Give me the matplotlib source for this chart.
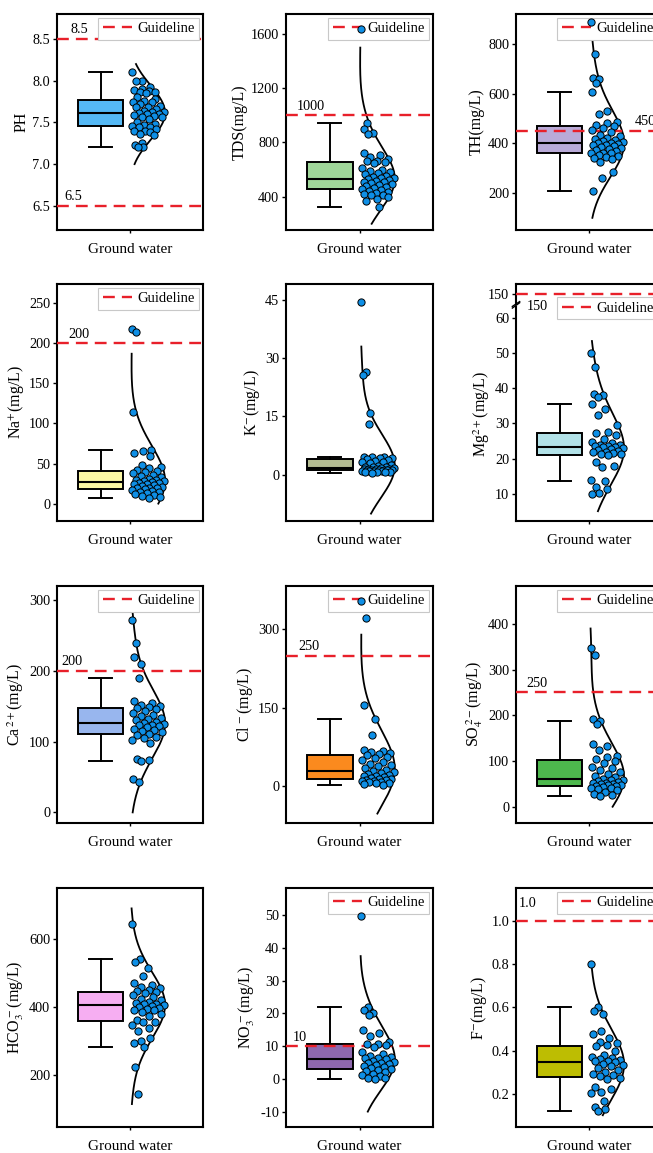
"""Box + half curve + scatter panels for ground water quality indices."""

import matplotlib.pyplot as plt
import numpy as np
from matplotlib.lines import Line2D
from matplotlib.ticker import FormatStrFormatter

plt.rcParams["font.family"] = ["Liberation Serif", "DejaVu Serif"]
plt.rcParams["mathtext.fontset"] = "stix"

CATEGORY = "Ground water"
GUIDE_NAME = "Guideline"

# sample values
ph = [8.10, 8.00, 8.00, 7.92, 7.90, 7.89, 7.88, 7.87, 7.86, 7.85, 7.80, 7.78, 7.76, 7.75, 7.74, 7.72,
      7.70, 7.69, 7.68, 7.66, 7.64, 7.62, 7.62, 7.61, 7.60, 7.60, 7.59, 7.58, 7.57, 7.56, 7.54, 7.50,
      7.48, 7.47, 7.46, 7.45, 7.44, 7.42, 7.40, 7.40, 7.38, 7.36, 7.35, 7.25, 7.23, 7.21, 7.20]
tds = [1640, 940, 897, 872, 862, 720, 705, 690, 680, 665, 660, 655, 650, 615, 600, 590, 585, 575, 565,
       555, 545, 540, 535, 530, 522, 515, 510, 505, 500, 495, 488, 480, 472, 465, 458, 450, 445, 438,
       430, 422, 415, 410, 395, 380, 365, 321]
th = [888, 760, 665, 660, 645, 605, 530, 520, 488, 480, 472, 470, 460, 455, 445, 435, 428, 422, 418,
      415, 410, 405, 400, 400, 398, 395, 392, 388, 385, 380, 378, 375, 370, 361, 362, 360, 355, 350,
      345, 340, 335, 325, 283, 259, 208]
na = [218, 214, 114, 67, 66, 63, 59, 48, 46, 44, 42, 41, 40, 38, 36, 34, 33, 31, 30, 29, 28, 28, 27,
      26, 26, 25, 24, 23, 22, 21, 20, 20, 19, 18, 17, 16, 15, 14, 13, 12, 11, 10, 8, 7]
k = [44.5, 26.5, 25.8, 16.0, 13.0, 4.7, 4.6, 4.5, 4.4, 4.2, 4.0, 3.8, 3.6, 3.4, 3.2, 3.0, 2.6, 2.3,
     2.1, 2.0, 1.9, 1.8, 1.7, 1.6, 1.5, 1.5, 1.4, 1.3, 1.3, 1.2, 1.2, 1.1, 1.1, 1.0, 1.0, 0.9, 0.9,
     0.8, 0.8, 0.7, 0.6, 0.5]
mg = [50.0, 46.0, 38.5, 38.0, 37.6, 35.5, 34.0, 32.5, 29.5, 27.6, 27.2, 26.8, 25.5, 24.6, 24.4, 24.0,
      23.8, 23.6, 23.5, 23.4, 23.2, 23.0, 22.8, 22.5, 22.2, 22.0, 21.8, 21.5, 21.2, 21.2, 21.0, 19.0,
      18.0, 17.5, 13.9, 13.6, 11.8, 11.3, 10.2, 9.8]
ca = [272, 240, 220, 210, 190, 157, 155, 152, 150, 149, 148, 146, 144, 141, 138, 136, 134, 132, 130,
      128, 126, 125, 124, 123, 122, 120, 118, 116, 115, 113, 111, 109, 107, 105, 103, 98, 75, 74, 72,
      47, 43]
cl = [355, 322, 155, 128, 98, 70, 68, 66, 64, 62, 60, 57, 54, 50, 46, 42, 40, 38, 35, 32, 30, 28, 26,
      24, 22, 20, 19, 18, 16, 15, 14, 13, 12, 11, 10, 9, 8, 7, 6, 5, 3]
so4 = [347, 332, 192, 188, 180, 137, 133, 125, 112, 108, 104, 100, 95, 88, 84, 80, 76, 72, 68, 64, 61,
       59, 58, 56, 55, 53, 52, 50, 49, 48, 47, 46, 45, 44, 42, 40, 38, 36, 32, 28, 26, 24]
hco3 = [645, 542, 532, 515, 492, 470, 465, 460, 456, 450, 447, 444, 440, 436, 430, 425, 420, 415, 412,
        410, 408, 405, 403, 400, 398, 395, 392, 390, 385, 380, 375, 362, 356, 355, 348, 340, 330, 310,
        300, 295, 284, 225, 145]
no3 = [49.7, 21.9, 21.0, 20.2, 19.5, 15.0, 14.0, 13.0, 11.2, 10.8, 10.5, 10.2, 9.8, 8.2, 7.6, 7.0,
       6.8, 6.5, 6.3, 6.0, 5.6, 5.3, 5.0, 4.8, 4.5, 4.2, 4.0, 3.6, 3.2, 3.0, 2.8, 2.5, 2.0, 1.6, 1.2,
       0.8, 0.4, 0.2, 0.0]
f = [0.80, 0.60, 0.585, 0.57, 0.49, 0.475, 0.46, 0.44, 0.435, 0.425, 0.42, 0.40, 0.38, 0.37, 0.365,
     0.36, 0.355, 0.35, 0.35, 0.345, 0.34, 0.335, 0.33, 0.32, 0.31, 0.30, 0.29, 0.285, 0.28, 0.275,
     0.27, 0.23, 0.22, 0.21, 0.205, 0.165, 0.14, 0.13, 0.12]

# guideline limits
ph_guide = [8.5, 6.5]
tds_guide = [1000]
th_guide = [450]
na_guide = [200]
mg_guide = [150]
ca_guide = [200]
cl_guide = [250]
so4_guide = [250]
no3_guide = [10]
f_guide = [1.0]

# y span covered by the distribution curve
ph_curve = [7.0, 8.2]
tds_curve = [200, 1500]
th_curve = [100, 880]
na_curve = [0, 187]
k_curve = [-10, 33]
mg_curve = [5, 53.5]
ca_curve = [0, 283]
cl_curve = [-52, 290]
so4_curve = [0, 390]
hco3_curve = [115, 690]
no3_curve = [-10, 37.5]
f_curve = [0.1, 0.8]

RED = "#E8202A"
DOT = "#0E8FE6"
DASH = (0, (5, 3))
BOX_X, BOX_W, CAP_W = 0.298, 0.31, 0.155
CURVE_MAX = 0.24
TICK_FS = 10.3

COL_LEFT = [57, 286, 516]
ROW_TOP = [14, 284, 586, 888]
ROW_BOTTOM = [230, 521, 823, 1127]

PANELS = [
    dict(label="PH", values=ph, guide=ph_guide, gx=[0.09, 0.05], curve=ph_curve, color="#55B9F5",
         ylim=(6.21, 8.8), yticks=[6.5, 7.0, 7.5, 8.0, 8.5], fmt="%.1f", cell=(0, 0)),
    dict(label="TDS(mg/L)", values=tds, guide=tds_guide, gx=[0.073], curve=tds_curve, color="#A0D79A",
         ylim=(154, 1748), yticks=[400, 800, 1200, 1600], fmt="%d", cell=(0, 1)),
    dict(label="TH(mg/L)", values=th, guide=th_guide, gx=[0.815], curve=th_curve, color="#B9AAD8",
         ylim=(51, 921), yticks=[200, 400, 600, 800], fmt="%d", cell=(0, 2)),
    dict(label="Na$^{+}$(mg/L)", values=na, guide=na_guide, gx=[0.075], curve=na_curve, color="#FBF7A4",
         ylim=(-21.7, 274), yticks=[0, 50, 100, 150, 200, 250], fmt="%d", cell=(1, 0)),
    dict(label="K$^{-}$(mg/L)", values=k, guide=[], gx=[], curve=k_curve, color="#B4BC92",
         ylim=(-11.9, 49.1), yticks=[0, 15, 30, 45], fmt="%d", cell=(1, 1)),
    dict(label="Mg$^{2+}$(mg/L)", values=mg, guide=mg_guide, gx=[0.075], curve=mg_curve, color="#B2E2E8",
         ylim=(2.2, 63.2), yticks=[10, 20, 30, 40, 50, 60], fmt="%d", cell=(1, 2), broken=True),
    dict(label="Ca$^{\\,2+}$(mg/L)", values=ca, guide=ca_guide, gx=[0.03], curve=ca_curve, color="#98B6EE",
         ylim=(-15, 320), yticks=[0, 100, 200, 300], fmt="%d", cell=(2, 0)),
    dict(label="Cl$^{\\,-}$(mg/L)", values=cl, guide=cl_guide, gx=[0.082], curve=cl_curve, color="#FB8A1E",
         ylim=(-70, 383), yticks=[0, 150, 300], fmt="%d", cell=(2, 1)),
    dict(label="SO$_4^{\\,2-}$(mg/L)", values=so4, guide=so4_guide, gx=[0.068], curve=so4_curve,
         color="#4DB84D", ylim=(-35.6, 483), yticks=[0, 100, 200, 300, 400], fmt="%d", cell=(2, 2)),
    dict(label="HCO$_3^{\\,-}$(mg/L)", values=hco3, guide=[], gx=[], curve=hco3_curve, color="#F6AEF2",
         ylim=(47.6, 750), yticks=[200, 400, 600], fmt="%d", cell=(3, 0)),
    dict(label="NO$_3^{\\,-}$(mg/L)", values=no3, guide=no3_guide, gx=[0.045], curve=no3_curve,
         color="#8E68AE", ylim=(-14.7, 58.3), yticks=[-10, 0, 10, 20, 30, 40, 50], fmt="%d", cell=(3, 1)),
    dict(label="F$^{-}$(mg/L)", values=f, guide=f_guide, gx=[0.02], curve=f_curve, color="#BDBD02",
         ylim=(0.0455, 1.154), yticks=[0.2, 0.4, 0.6, 0.8, 1.0], fmt="%.1f", cell=(3, 2), gdy=13),
]


def add_axes_px(fig, left, top, width, height):
    fw, fh = fig.get_size_inches() * fig.dpi
    return fig.add_axes([left / fw, 1 - (top + height) / fh, width / fw, height / fh])


def density(values, y):
    bw = 0.95 * np.std(values)
    return np.exp(-0.5 * ((y[:, None] - values[None, :]) / bw) ** 2).sum(axis=1)


def style_axes(ax, p):
    for sp in ax.spines.values():
        sp.set_linewidth(1.5)
    ax.set_xlim(0, 1)
    ax.set_ylim(*p["ylim"])
    ax.set_yticks(p["yticks"])
    ax.yaxis.set_major_formatter(FormatStrFormatter(p["fmt"]))
    ax.tick_params(axis="y", direction="out", length=3, width=1, pad=2, labelsize=TICK_FS)
    ax.set_xticks([0.5])
    ax.set_xticklabels([CATEGORY])
    ax.tick_params(axis="x", direction="out", length=2.5, width=1, pad=7, labelsize=11)
    ax.set_ylabel(p["label"], fontsize=11.5, labelpad=2)


def draw_panel(ax, p, guide_ax=None):
    vals = np.asarray(p["values"], float)
    style_axes(ax, p)

    ax.boxplot([vals], positions=[BOX_X], widths=BOX_W, patch_artist=True, showfliers=False,
               whis=1.5, capwidths=[CAP_W], manage_ticks=False, zorder=2,
               boxprops=dict(facecolor=p["color"], edgecolor="black", linewidth=1.4),
               medianprops=dict(color="black", linewidth=1.5),
               whiskerprops=dict(color="black", linewidth=1.4),
               capprops=dict(color="black", linewidth=1.4))

    # half distribution curve
    grid = np.linspace(p["curve"][0], p["curve"][1], 300)
    dens = density(vals, grid)
    dmax = dens.max()
    ax.plot(0.5 + CURVE_MAX * dens / dmax, grid, color="black", lw=1.3, zorder=3)

    # points spread inside the curve
    pw = np.clip(CURVE_MAX * density(vals, vals) / dmax, 0.05, CURVE_MAX)
    frac = (np.arange(len(vals)) * 0.618034) % 1.0
    xs = 0.512 + frac * pw * 0.95
    ax.scatter(xs, vals, s=27, color=DOT, edgecolor="black", linewidth=0.7, zorder=6, clip_on=False)

    if not p["guide"]:
        return
    gax = guide_ax if guide_ax is not None else ax
    for g, gx in zip(p["guide"], p["gx"]):
        gax.axhline(g, color=RED, lw=1.7, ls=DASH, zorder=4)
        if guide_ax is None:
            ax.annotate(p["fmt"] % g, xy=(gx, g), xycoords=("axes fraction", "data"),
                        xytext=(0, p.get("gdy", 6.5)), textcoords="offset points",
                        ha="left", va="center", fontsize=TICK_FS)
        else:
            ax.annotate(p["fmt"] % g, xy=(gx, 1.0), xycoords="axes fraction",
                        ha="left", va="center", fontsize=TICK_FS, annotation_clip=False)
    handle = Line2D([], [], color=RED, lw=1.7, ls=DASH)
    anchor = (1.0, 1.063) if guide_ax is not None else (1.0, 1.0)
    leg = ax.legend([handle], [GUIDE_NAME], loc="upper right", bbox_to_anchor=anchor, fontsize=10.5,
                    frameon=True, fancybox=False, framealpha=1, edgecolor="#C8C8C8",
                    borderaxespad=0.25, borderpad=0.3, handlelength=2.0, handletextpad=0.4)
    leg.get_frame().set_linewidth(0.8)
    leg.set_zorder(5)


def main():
    fig = plt.figure(figsize=(6.53, 11.53), dpi=100)
    for p in PANELS:
        r, c = p["cell"]
        left = COL_LEFT[c]
        width = 147 if c == 1 else 146
        top, bottom = ROW_TOP[r], ROW_BOTTOM[r]
        if p.get("broken"):
            ax_top = add_axes_px(fig, left, top, width, 20)
            ax_top.set_facecolor("none")
            for sp in ax_top.spines.values():
                sp.set_linewidth(1.5)
            ax_top.spines["bottom"].set_visible(False)
            ax_top.set_xlim(0, 1)
            ax_top.set_ylim(148, 152.2)
            ax_top.set_yticks([150])
            ax_top.set_xticks([])
            ax_top.tick_params(axis="y", direction="out", length=3, width=1, pad=2, labelsize=TICK_FS)
            ax = add_axes_px(fig, left, top + 23, width, bottom - top - 23)
            ax.spines["top"].set_visible(False)
            draw_panel(ax, p, guide_ax=ax_top)
            kw = dict(color="black", lw=1.0, clip_on=False)
            ax.plot([-0.025, 0.025], [0.995, 1.02], transform=ax.transAxes, **kw)
            ax_top.plot([-0.025, 0.025], [-0.12, 0.12], transform=ax_top.transAxes, **kw)
        else:
            ax = add_axes_px(fig, left, top, width, bottom - top)
            draw_panel(ax, p)
    fig.savefig("out.png", dpi=100)
    plt.close(fig)


if __name__ == "__main__":
    main()
